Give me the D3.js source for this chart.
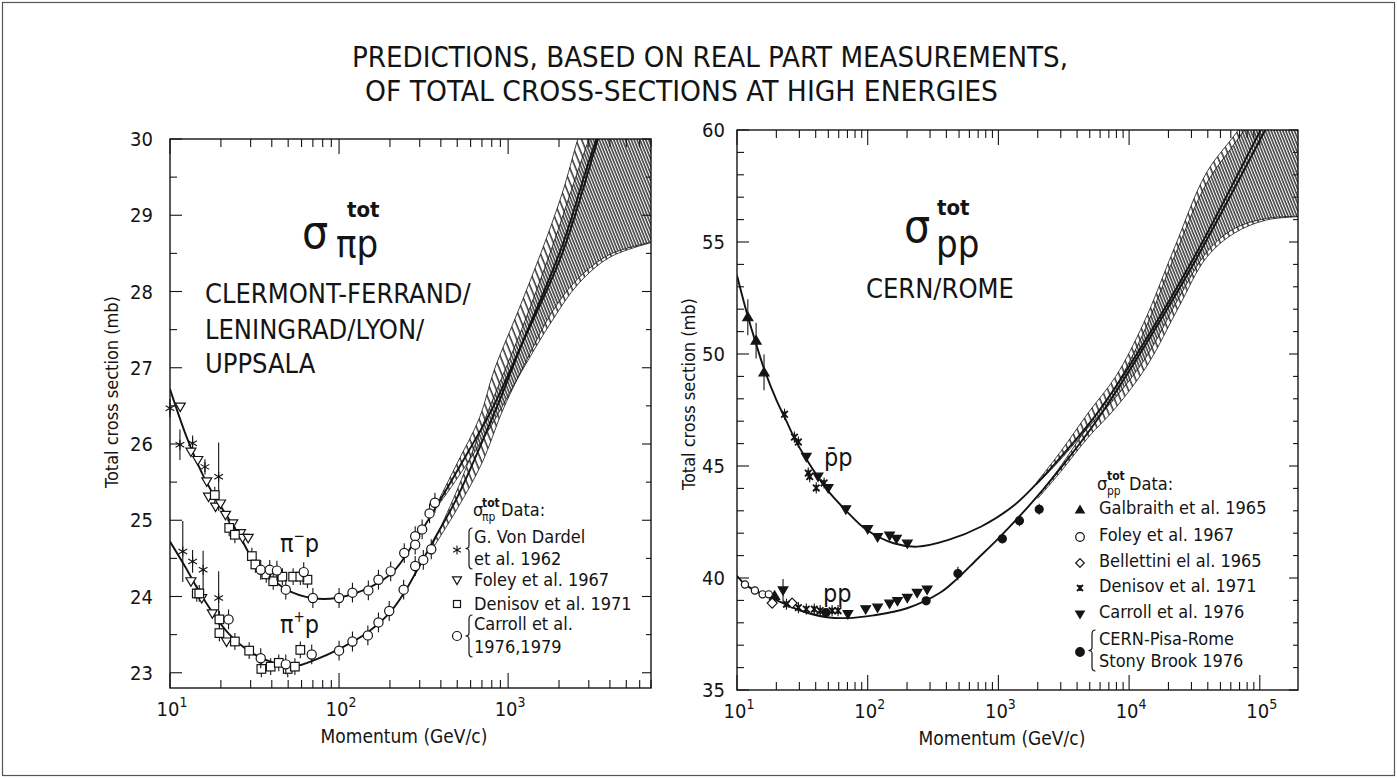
<!DOCTYPE html>
<html>
<head>
<meta charset="utf-8">
<title>Total cross-sections at high energies</title>
<script src="https://cdn.jsdelivr.net/npm/d3@7"></script>
<style>
  body { margin: 0; background: #fff; }
  svg text { font-family: "DejaVu Sans Condensed", "DejaVu Sans", sans-serif; font-stretch: condensed; fill: #141414; }
</style>
</head>
<body>
<div id="chart"></div>
<script>
// ---------------- pi p panel ----------------
// points: [momentum GeV/c, sigma mb, error mb (optional)]
const dardelPiMinus = [[10, 26.47, 0.12], [11.45, 25.99, 0.2], [13.6, 26.01, 0.1], [16.1, 25.7, 0.1], [19.4, 25.57, 0.45]];
const foleyPiMinus = [[11.5, 26.49], [13.3, 25.9], [14.6, 25.79], [16.5, 25.51], [16.9, 25.31], [18.6, 25.18],
  [19.9, 25.22], [21.3, 25.07], [23.5, 24.96], [26.1, 24.83], [26.9, 24.77], [29.0, 24.77]];
const denisovPiMinus = [[18.4, 25.33], [22.4, 24.9], [24.2, 24.81], [30.5, 24.53], [32, 24.42], [37.1, 24.29],
  [40.8, 24.2], [46.2, 24.26], [53.5, 24.26], [59, 24.26], [65, 24.22]];
const carrollPiMinus = [[34.4, 24.35], [38.9, 24.35], [42.9, 24.34], [48.4, 24.09], [61.8, 24.32], [70, 23.98],
  [100, 23.98], [120, 24.05], [149, 24.08], [171, 24.22], [202, 24.33], [243, 24.57], [282, 24.79], [282, 24.68],
  [310, 24.88], [343, 25.09], [369, 25.23]];

const dardelPiPlus = [[11.9, 24.59, 0.4], [13.6, 24.46, 0.15], [15.7, 24.35, 0.25], [19.4, 23.98, 0.35]];
const foleyPiPlus = [[13.3, 24.2], [15.4, 23.98], [17.8, 23.78], [21.6, 23.41]];
const denisovPiPlus = [[14.4, 24.04], [14.9, 24.04], [19.6, 23.7], [19.6, 23.52], [24.2, 23.41], [29.4, 23.29],
  [34.7, 23.05], [39.4, 23.08], [44, 23.13], [49.7, 23.05], [54.8, 23.08], [59, 23.3]];
const carrollPiPlus = [[22.2, 23.7], [34.4, 23.19], [48.4, 23.11], [68.9, 23.24], [100, 23.29], [120, 23.41],
  [148, 23.49], [171, 23.66], [198, 23.81], [241, 24.09], [282, 24.4], [315, 24.48], [351, 24.62]];

// fitted curves and predicted bands: [momentum, sigma]
const piMinusFit = [[10, 26.72], [12.7, 26.06], [16, 25.55], [20, 25.18], [25.9, 24.79], [29.7, 24.55], [38, 24.28],
  [48.9, 24.09], [68.8, 23.98], [96.4, 23.98], [155, 24.13], [210, 24.33], [280, 24.72], [376, 25.18], [500, 25.65],
  [800, 26.45], [1200, 27.3], [2090, 28.5], [3400, 30.0], [5000, 31.2]];
const piPlusFit = [[10, 24.72], [12.3, 24.39], [16, 23.95], [22.1, 23.52], [30, 23.27], [40, 23.14], [55, 23.09],
  [72, 23.17], [100, 23.31], [148, 23.53], [200, 23.79], [243, 24.05], [309, 24.46], [376, 24.8], [500, 25.3],
  [845, 26.45], [1200, 27.3], [2090, 28.6], [3000, 29.7], [4000, 30.5]];
const piMinusBandUp = [[376, 25.2], [500, 25.75], [679, 26.35], [827, 26.97], [1135, 27.72], [1560, 28.5],
  [2090, 29.29], [2606, 30.03], [4000, 31.4], [7000, 33]];
const piMinusBandLow = [[376, 25.16], [500, 25.55], [800, 26.25], [1200, 26.95], [1800, 27.6], [2600, 28.1],
  [4000, 28.45], [7000, 28.64]];
const piPlusBandUp = [[351, 24.64], [500, 25.4], [800, 26.55], [1200, 27.5], [1800, 28.55], [2600, 29.6],
  [4000, 30.8], [7000, 32.5]];
const piPlusBandLow = [[351, 24.6], [500, 25.15], [700, 25.75], [912, 26.4], [1055, 26.71], [1350, 27.19],
  [1807, 27.72], [2540, 28.15], [3945, 28.48], [6760, 28.64], [7000, 28.65]];

// ---------------- p p panel ----------------
const galbraithPP = [[12.1, 51.64, 0.8], [14, 50.6, 0.8], [16.1, 49.18, 0.8], [19.4, 39.2, 0.12]];
const foleyPP = [[11.5, 39.71], [13.7, 39.44], [15.7, 39.27], [17.5, 39.27]];
const bellettiniPP = [[18.6, 38.88], [26.4, 38.88]];
const denisovPP = [[23.1, 47.31], [27.5, 46.29], [29.5, 46.07], [35.1, 44.68], [36, 44.53], [40.4, 44.02],
  [46.4, 44.24], [23.9, 38.83], [29.5, 38.68], [33.9, 38.61], [39, 38.61], [43.3, 38.54], [53.4, 38.54], [59.3, 38.54]];
const carrollPP = [[33.9, 45.41], [41.7, 44.53], [49.8, 44.02], [68, 43.07], [100, 42.19], [119, 41.83], [147, 41.9],
  [166, 41.75], [201, 41.54], [22.5, 39.45, 0.5], [70.5, 38.39], [96.5, 38.61], [119, 38.68], [147, 38.86],
  [169, 38.98], [201, 39.12], [239, 39.34], [285, 39.49]];
const cernPisaPP = [[48, 38.46], [280, 38.98], [490, 40.2, 0.3], [1072, 41.75, 0.2], [1449, 42.56, 0.25], [2052, 43.07, 0.25]];

const pbarpFit = [[10, 53.5], [12, 51.75], [14, 50.45], [16.2, 49.3], [20, 47.95], [23.9, 47.0], [27.7, 46.2],
  [34, 45.3], [48, 44.0], [68.5, 43.0], [98, 42.15], [158, 41.55], [240, 41.4], [415, 41.7], [740, 42.3],
  [1290, 43.2], [1950, 44.2], [3000, 45.4], [5600, 47.3], [11200, 49.9], [31600, 54.34], [100000, 59.93], [120000, 60.8]];
const ppFit = [[10, 40.1], [11.5, 39.72], [13.7, 39.45], [19.1, 39.07], [30.5, 38.55], [48.8, 38.25], [69.5, 38.21],
  [111, 38.33], [200, 38.65], [360, 39.35], [480, 39.95], [690, 40.85], [975, 41.7], [1700, 43.2], [2760, 44.65],
  [5600, 47.0], [11200, 49.7], [31600, 54.1], [110000, 60], [130000, 60.8]];
const pbarpBandUp = [[1950, 44.25], [3000, 45.65], [4900, 47.4], [7900, 49.0], [12900, 51.37], [22400, 54.79],
  [38900, 58.07], [68500, 60], [200000, 64]];
const pbarpBandLow = [[1950, 44.15], [3000, 45.3], [5000, 46.8], [8000, 48.1], [14000, 50.0], [24000, 52.5],
  [40000, 54.6], [64000, 55.6], [112000, 56.05], [200000, 56.15]];
const ppBandUp = [[2000, 43.65], [3000, 45.0], [5000, 46.9], [8000, 48.6], [13000, 51.0], [22000, 54.3],
  [39000, 57.6], [68000, 59.6], [200000, 63.5]];
const ppBandLow = [[2000, 43.55], [3000, 44.75], [4900, 46.3], [7900, 47.6], [13800, 49.5], [24000, 52.1],
  [39000, 54.3], [64000, 55.4], [112000, 55.98], [200000, 56.13]];

// axis labels
const titleLines = ["PREDICTIONS, BASED ON REAL PART MEASUREMENTS,", "OF TOTAL CROSS-SECTIONS AT HIGH ENERGIES"];
const piYLabels = [23, 24, 25, 26, 27, 28, 29, 30];
const ppYLabels = [35, 40, 45, 50, 55, 60];
const piXExponents = [1, 2, 3];
const ppXExponents = [1, 2, 3, 4, 5];
const piGroupLines = ["CLERMONT-FERRAND/", "LENINGRAD/LYON/", "UPPSALA"];

const INK = "#141414";

const svg = d3.select("#chart").append("svg")
    .attr("width", 1397)
    .attr("height", 779)
    .style("display", "block");
const defs = svg.append("defs");

// outer border
svg.append("rect")
    .attr("x", 2.5).attr("y", 2.5).attr("width", 1392).attr("height", 773)
    .attr("fill", "none").attr("stroke", "#555").attr("stroke-width", 1.2);

// title (condensed, tall capitals)
svg.append("text").attr("x", 352).attr("y", 67)
    .attr("textLength", 716).attr("lengthAdjust", "spacingAndGlyphs")
    .style("font-size", "29px").text(titleLines[0]);
svg.append("text").attr("x", 365).attr("y", 101)
    .attr("textLength", 633).attr("lengthAdjust", "spacingAndGlyphs")
    .style("font-size", "29px").text(titleLines[1]);

// hatch patterns (B is A shifted half a gap, so overlaps look denser)
function addHatch(id, shift) {
    const p = defs.append("pattern").attr("id", id)
        .attr("patternUnits", "userSpaceOnUse")
        .attr("width", 5.4).attr("height", 20)
        .attr("patternTransform", `rotate(-22) translate(${shift},0)`);
    p.append("line").attr("x1", 1).attr("x2", 1).attr("y1", 0).attr("y2", 20)
        .attr("stroke", INK).attr("stroke-width", 1.3);
}
addHatch("hatchA", 0);
addHatch("hatchB", 2.7);

function marker(g, type, cx, cy, r) {
    let el, sw = 1.2;
    switch (type) {
        case "circle":
            el = g.append("circle").attr("cx", cx).attr("cy", cy).attr("r", r).attr("fill", "#fff"); break;
        case "dot":
            el = g.append("circle").attr("cx", cx).attr("cy", cy).attr("r", r).attr("fill", INK); break;
        case "square":
            el = g.append("rect").attr("x", cx - r).attr("y", cy - r).attr("width", 2 * r).attr("height", 2 * r).attr("fill", "#fff"); break;
        case "triDown":
        case "triDownFill":
            el = g.append("path").attr("d", `M${cx - r},${cy - r * 0.7}L${cx + r},${cy - r * 0.7}L${cx},${cy + r}Z`)
                .attr("fill", type === "triDown" ? "#fff" : INK); break;
        case "triUpFill":
            el = g.append("path").attr("d", `M${cx - r},${cy + r * 0.7}L${cx + r},${cy + r * 0.7}L${cx},${cy - r}Z`).attr("fill", INK); break;
        case "diamond":
            el = g.append("path").attr("d", `M${cx},${cy - r}L${cx + r},${cy}L${cx},${cy + r}L${cx - r},${cy}Z`).attr("fill", "#fff"); break;
        case "star": {
            const d = [90, 30, 150].map(a => {
                const t = a * Math.PI / 180, dx = r * Math.cos(t), dy = r * Math.sin(t);
                return `M${cx - dx},${cy - dy}L${cx + dx},${cy + dy}`;
            }).join("");
            el = g.append("path").attr("d", d).attr("fill", "none"); sw = 1.1; break;
        }
        case "cross": {
            const d = `M${cx - r},${cy - r}L${cx + r},${cy + r}M${cx - r},${cy + r}L${cx + r},${cy - r}M${cx},${cy - r}L${cx},${cy + r}`;
            el = g.append("path").attr("d", d).attr("fill", "none"); sw = 1.8; break;
        }
    }
    el.attr("stroke", INK).attr("stroke-width", sw);
}

function brace(g, x, y0, y1) {
    const m = (y0 + y1) / 2, w = 3.5;
    g.append("path")
        .attr("d", `M${x + w},${y0}Q${x},${y0} ${x},${y0 + 4}L${x},${m - 3}Q${x},${m} ${x - w},${m}Q${x},${m} ${x},${m + 3}L${x},${y1 - 4}Q${x},${y1} ${x + w},${y1}`)
        .attr("fill", "none").attr("stroke", INK).attr("stroke-width", 1.2);
}

function drawPanel(p) {
    const x = d3.scaleLog().domain(p.xDomain).range([p.box.left, p.box.right]);
    const y = d3.scaleLinear().domain(p.yDomain).range([p.box.bottom, p.box.top]);
    const g = svg.append("g");

    defs.append("clipPath").attr("id", p.id + "Clip").append("rect")
        .attr("x", p.box.left).attr("y", p.box.top)
        .attr("width", p.box.right - p.box.left).attr("height", p.box.bottom - p.box.top);
    const plot = g.append("g").attr("clip-path", `url(#${p.id}Clip)`);

    const edge = d3.line().x(d => x(d[0])).y(d => y(d[1])).curve(d3.curveCatmullRom.alpha(0.5));

    // hatched prediction bands
    p.bands.forEach(b => {
        const outline = edge(b.upper) + "L" + edge(b.lower.slice().reverse()).slice(1) + "Z";
        plot.append("path").attr("d", outline).attr("fill", `url(#${b.hatch})`);
        [b.upper, b.lower].forEach(e => plot.append("path").attr("d", edge(e))
            .attr("fill", "none").attr("stroke", INK).attr("stroke-width", 0.8));
    });

    // fits
    p.fits.forEach(f => plot.append("path").attr("d", edge(f))
        .attr("fill", "none").attr("stroke", INK).attr("stroke-width", 1.9));

    // data points with error bars
    p.series.forEach(s => {
        const pts = g.append("g");
        pts.selectAll("line").data(s.data).join("line")
            .attr("x1", d => x(d[0])).attr("x2", d => x(d[0]))
            .attr("y1", d => y(d[1] - (d[2] ?? s.err)))
            .attr("y2", d => y(d[1] + (d[2] ?? s.err)))
            .attr("stroke", INK).attr("stroke-width", 1.1);
        s.data.forEach(d => marker(pts, s.type, x(d[0]), y(d[1]), s.size));
    });

    // frame and inward ticks
    const frame = g.append("g").attr("stroke", INK).attr("fill", "none");
    frame.append("rect")
        .attr("x", p.box.left).attr("y", p.box.top)
        .attr("width", p.box.right - p.box.left).attr("height", p.box.bottom - p.box.top)
        .attr("stroke-width", 1.4);

    const isDecade = v => Math.abs(Math.log10(v) - Math.round(Math.log10(v))) < 1e-6;
    const xt = x.ticks();
    [[p.box.bottom, -1], [p.box.top, 1]].forEach(([y0, dir]) => {
        frame.append("g").selectAll("line").data(xt).join("line")
            .attr("x1", d => x(d)).attr("x2", d => x(d))
            .attr("y1", y0).attr("y2", d => y0 + dir * (isDecade(d) ? 15 : 8))
            .attr("stroke-width", 1.1);
    });

    const yt = d3.range(Math.ceil(p.yDomain[0] / p.yStep) * p.yStep, p.yDomain[1] + 1e-9, p.yStep);
    const isMajor = v => Math.abs(v / p.yMajor - Math.round(v / p.yMajor)) < 1e-6;
    [[p.box.left, 1, 12, 7], [p.box.right, -1, 9, 5]].forEach(([x0, dir, big, small]) => {
        frame.append("g").selectAll("line").data(yt).join("line")
            .attr("y1", d => y(d)).attr("y2", d => y(d))
            .attr("x1", x0).attr("x2", d => x0 + dir * (isMajor(d) ? big : small))
            .attr("stroke-width", 1.1);
    });

    // tick labels
    g.append("g").selectAll("text").data(p.yLabels).join("text")
        .attr("x", p.yLabelX).attr("y", d => y(d) + 7)
        .attr("text-anchor", "end").style("font-size", "20px")
        .text(d => d);

    const xl = g.append("g").selectAll("text").data(p.xExponents).join("text")
        .attr("x", d => x(Math.pow(10, d)) + 2).attr("y", p.box.bottom + 28)
        .attr("text-anchor", "middle").style("font-size", "20px");
    xl.append("tspan").text("10");
    xl.append("tspan").attr("dy", -9).style("font-size", "14px").text(d => d);

    // axis titles
    g.append("text")
        .attr("transform", `translate(${p.yTitleX},${p.yTitleY}) rotate(-90)`)
        .attr("text-anchor", "middle").style("font-size", "18px")
        .text("Total cross section (mb)");
    g.append("text")
        .attr("x", p.xTitleX).attr("y", p.box.bottom + 55)
        .attr("text-anchor", "middle").style("font-size", "19px")
        .text("Momentum (GeV/c)");

    return { g, x, y };
}

// ---------- left panel ----------
const left = drawPanel({
    id: "pip",
    box: { left: 170, right: 651, top: 139, bottom: 688 },
    xDomain: [10, 7000],
    yDomain: [22.8, 30],
    yStep: 0.5, yMajor: 1,
    yLabels: piYLabels, yLabelX: 153,
    xExponents: piXExponents,
    yTitleX: 118, yTitleY: 392, xTitleX: 404,
    bands: [
        { upper: piPlusBandUp, lower: piPlusBandLow, hatch: "hatchB" },
        { upper: piMinusBandUp, lower: piMinusBandLow, hatch: "hatchA" }
    ],
    fits: [piMinusFit, piPlusFit],
    series: [
        { data: dardelPiMinus.concat(dardelPiPlus), type: "star", size: 5, err: 0.1 },
        { data: foleyPiMinus.concat(foleyPiPlus), type: "triDown", size: 5, err: 0.0 },
        { data: denisovPiMinus.concat(denisovPiPlus), type: "square", size: 4.3, err: 0.11 },
        { data: carrollPiMinus.concat(carrollPiPlus), type: "circle", size: 4.6, err: 0.13 }
    ]
});

// big symbol and group names
const lg = left.g;
lg.append("text").attr("x", 302).attr("y", 248).style("font-size", "46px").text("σ");
lg.append("text").attr("x", 347).attr("y", 217).style("font-size", "22px").style("font-weight", "bold").text("tot");
lg.append("text").attr("x", 336).attr("y", 257).style("font-size", "38px").text("πp");
piGroupLines.forEach((t, i) => lg.append("text")
    .attr("x", 205).attr("y", [303, 339, 373][i]).style("font-size", "27px").text(t));

const piMinusLabel = lg.append("text").attr("x", 280).attr("y", 552).style("font-size", "25px");
piMinusLabel.append("tspan").text("π");
piMinusLabel.append("tspan").attr("dy", -11).style("font-size", "15px").text("−");
piMinusLabel.append("tspan").attr("dy", 11).text("p");
const piPlusLabel = lg.append("text").attr("x", 280).attr("y", 633).style("font-size", "25px");
piPlusLabel.append("tspan").text("π");
piPlusLabel.append("tspan").attr("dy", -11).style("font-size", "15px").text("+");
piPlusLabel.append("tspan").attr("dy", 11).text("p");

// left legend
const leg1 = lg.append("g");
leg1.append("text").attr("x", 473).attr("y", 516).style("font-size", "18px").text("σ");
leg1.append("text").attr("x", 482).attr("y", 507).style("font-size", "12px").style("font-weight", "bold").text("tot");
leg1.append("text").attr("x", 482).attr("y", 521).style("font-size", "12px").text("πp");
leg1.append("text").attr("x", 501).attr("y", 516).style("font-size", "18px").text("Data:");
const piLegend = [
    { type: "star", y: 550, lines: ["G. Von Dardel", "et al. 1962"], ty: [543, 565] },
    { type: "triDown", y: 580, lines: ["Foley et al. 1967"], ty: [586] },
    { type: "square", y: 604, lines: ["Denisov et al. 1971"], ty: [610] },
    { type: "circle", y: 636, lines: ["Carroll et al.", "1976,1979"], ty: [630, 653] }
];
piLegend.forEach(e => {
    marker(leg1, e.type, 457, e.y, e.type === "square" ? 3.5 : 4.5);
    if (e.lines.length > 1) brace(leg1, 469, e.ty[0] - 15, e.ty[1] + 4);
    e.lines.forEach((t, i) => leg1.append("text").attr("x", 474).attr("y", e.ty[i]).style("font-size", "18px").text(t));
});

// ---------- right panel ----------
const right = drawPanel({
    id: "pp",
    box: { left: 737, right: 1298, top: 130, bottom: 690 },
    xDomain: [10, 196000],
    yDomain: [35, 60],
    yStep: 1, yMajor: 5,
    yLabels: ppYLabels, yLabelX: 725,
    xExponents: ppXExponents,
    yTitleX: 695, yTitleY: 394, xTitleX: 1002,
    bands: [
        { upper: ppBandUp, lower: ppBandLow, hatch: "hatchB" },
        { upper: pbarpBandUp, lower: pbarpBandLow, hatch: "hatchA" }
    ],
    fits: [pbarpFit, ppFit],
    series: [
        { data: galbraithPP, type: "triUpFill", size: 5, err: 0.1 },
        { data: foleyPP, type: "circle", size: 3.6, err: 0 },
        { data: bellettiniPP, type: "diamond", size: 5, err: 0 },
        { data: denisovPP, type: "cross", size: 3.3, err: 0.25 },
        { data: carrollPP, type: "triDownFill", size: 4.8, err: 0 },
        { data: cernPisaPP, type: "dot", size: 4, err: 0.12 }
    ]
});

const rg = right.g;
rg.append("text").attr("x", 904).attr("y", 242).style("font-size", "46px").text("σ");
rg.append("text").attr("x", 937).attr("y", 215).style("font-size", "22px").style("font-weight", "bold").text("tot");
rg.append("text").attr("x", 936).attr("y", 257).style("font-size", "38px").text("pp");
rg.append("text").attr("x", 866).attr("y", 298).style("font-size", "27px").text("CERN/ROME");
rg.append("text").attr("x", 824).attr("y", 466).style("font-size", "25px").text("p\u0304p");
rg.append("text").attr("x", 823).attr("y", 602).style("font-size", "25px").text("pp");

const leg2 = rg.append("g");
leg2.append("text").attr("x", 1097).attr("y", 490).style("font-size", "18px").text("σ");
leg2.append("text").attr("x", 1107).attr("y", 480).style("font-size", "12px").style("font-weight", "bold").text("tot");
leg2.append("text").attr("x", 1107).attr("y", 495).style("font-size", "12px").text("pp");
leg2.append("text").attr("x", 1129).attr("y", 490).style("font-size", "18px").text("Data:");
const ppLegend = [
    { type: "triUpFill", y: 510, lines: ["Galbraith et al. 1965"], ty: [514] },
    { type: "circle", y: 537, lines: ["Foley et al. 1967"], ty: [541] },
    { type: "diamond", y: 563, lines: ["Bellettini el al. 1965"], ty: [567] },
    { type: "cross", y: 588, lines: ["Denisov et al. 1971"], ty: [592] },
    { type: "triDownFill", y: 614, lines: ["Carroll et al. 1976"], ty: [618] },
    { type: "dot", y: 652, lines: ["CERN-Pisa-Rome", "Stony Brook 1976"], ty: [645, 667] }
];
ppLegend.forEach(e => {
    marker(leg2, e.type, 1080, e.y, e.type === "cross" ? 3 : 4.3);
    if (e.lines.length > 1) brace(leg2, 1092, e.ty[0] - 15, e.ty[1] + 4);
    e.lines.forEach((t, i) => leg2.append("text").attr("x", 1099).attr("y", e.ty[i]).style("font-size", "18px").text(t));
});
</script>
</body>
</html>
